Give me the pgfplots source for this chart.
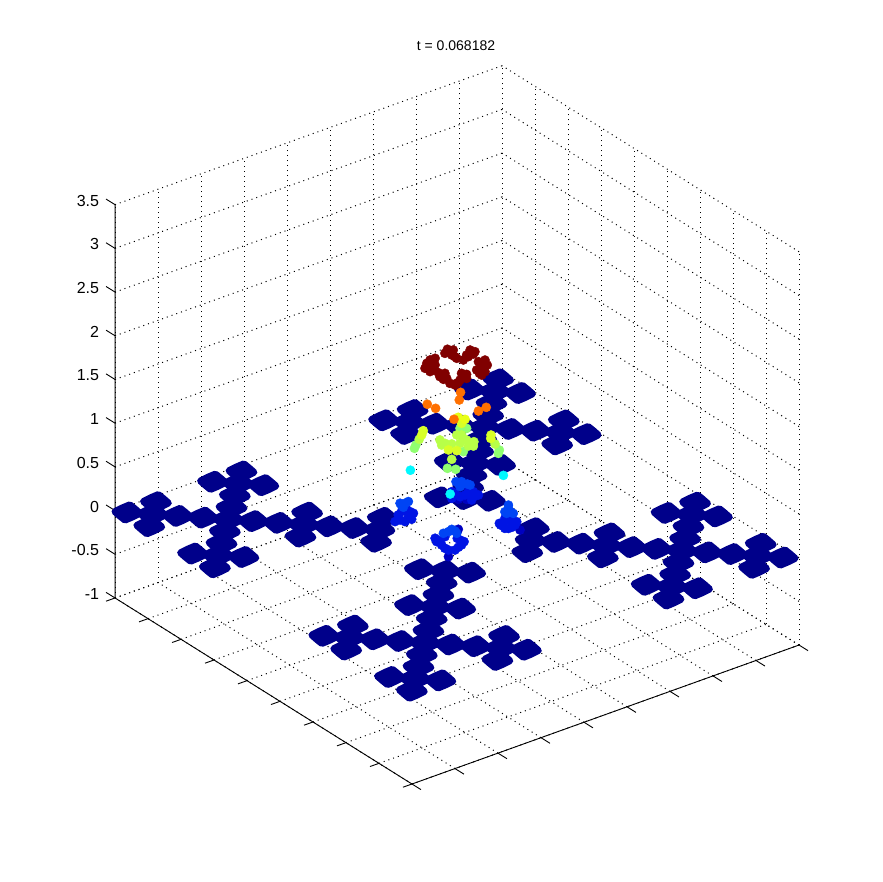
\documentclass[border=0pt]{standalone}
\usepackage{fontspec}
\setmainfont{Liberation Sans}
\usepackage{pgfplots}
\pgfplotsset{compat=1.18}
\definecolor{jnavy}{HTML}{00008A}
\definecolor{jdb}{HTML}{0000C0}
\definecolor{jmb}{HTML}{0014E4}
\definecolor{jlb}{HTML}{0044F4}
\definecolor{jcy}{HTML}{00F8FF}
\definecolor{jg}{HTML}{90FF70}
\definecolor{jy2}{HTML}{B8FF48}
\definecolor{jy1}{HTML}{D8FF28}
\definecolor{jy0}{HTML}{E8FF18}
\definecolor{jor}{HTML}{FF7000}
\definecolor{jred}{HTML}{800000}
\pgfdeclareplotmark{lobe}{%
  \pgfpathmoveto{\pgfqpoint{12.4pt}{-0.8pt}}%
  \pgfpathlineto{\pgfqpoint{7.4pt}{3.6pt}}%
  \pgfpathlineto{\pgfqpoint{2.4pt}{7.6pt}}%
  \pgfpathlineto{\pgfqpoint{-5.0pt}{4.5pt}}%
  \pgfpathlineto{\pgfqpoint{-12.4pt}{0.8pt}}%
  \pgfpathlineto{\pgfqpoint{-7.4pt}{-3.6pt}}%
  \pgfpathlineto{\pgfqpoint{-2.4pt}{-7.6pt}}%
  \pgfpathlineto{\pgfqpoint{5.0pt}{-4.5pt}}%
  \pgfpathclose
  \pgfsetlinewidth{7pt}%
  \pgfsetroundjoin
  \pgfusepathqfillstroke}
\pgfplotsset{dots/.style={only marks,mark=*,mark size=4.6pt,mark options={draw=#1,fill=#1,line width=0.4pt}}}
\begin{document}
\begin{tikzpicture}[x=1pt,y=1pt]
\useasboundingbox (0,0) rectangle (883,882);
\begin{axis}[
  at={(455pt,347pt)},anchor=origin,
  x={(14.26pt,5.12pt)},y={(-10.94pt,6.854pt)},z={(0pt,87.4pt)},
  disabledatascaling,clip=false,
  xmin=-13.417,xmax=13.724,ymin=-13.556,ymax=13.585,zmin=-1,zmax=3.5,
  xtick={-13.417,-10.401,-7.386,-4.370,-1.354,1.661,4.677,7.692,10.708,13.724},
  ytick={-13.556,-10.540,-7.524,-4.509,-1.493,1.522,4.538,7.553,10.569,13.585},
  ztick={-1,-0.5,0,0.5,1,1.5,2,2.5,3,3.5},
  zticklabels={-1,-0.5,0,0.5,1,1.5,2,2.5,3,3.5},
  xticklabels={},yticklabels={},
  grid=major,grid style={black,line width=1pt,dash pattern=on 1pt off 4pt},
  axis line style={draw=none},
  major tick length=0pt,tick style={draw=none},
  z tick label style={font=\fontsize{16}{17}\selectfont,anchor=east,xshift=-12.5pt,yshift=4pt},
]
\addplot3[only marks,mark=lobe,color=jnavy] coordinates {
(-13,13,0)(-12,12,0)(-11,11,0)(-10,10,0)(-9,9,0)(-8,8,0)(-7,7,0)(-6,6,0)(-5,5,0)(-4,4,0)(-3,3,0)
(-11,13,0)(-13,11,0)(-5,7,0)(-7,5,0)(-2,4,0)(-4,2,0)
(-8,10,0)(-7,11,0)(-6,12,0)(-5,13,0)(-10,8,0)(-11,7,0)(-12,6,0)(-13,5,0)
(-7,13,0)(-13,7,0)(-5,11,0)(-11,5,0)
(13,-13,0)(12,-12,0)(11,-11,0)(10,-10,0)(9,-9,0)(8,-8,0)(7,-7,0)(6,-6,0)(5,-5,0)(4,-4,0)(3,-3,0)
(13,-11,0)(11,-13,0)(7,-5,0)(5,-7,0)(4,-2,0)(2,-4,0)
(10,-8,0)(11,-7,0)(12,-6,0)(13,-5,0)(8,-10,0)(7,-11,0)(6,-12,0)(5,-13,0)
(13,-7,0)(7,-13,0)(11,-5,0)(5,-11,0)
(-13,-13,0)(-12,-12,0)(-11,-11,0)(-10,-10,0)(-9,-9,0)(-8,-8,0)(-7,-7,0)(-6,-6,0)(-5,-5,0)(-4,-4,0)(-3,-3,0)
(-11,-13,0)(-13,-11,0)(-5,-7,0)(-7,-5,0)(-2,-4,0)(-4,-2,0)
(-8,-10,0)(-7,-11,0)(-6,-12,0)(-5,-13,0)(-10,-8,0)(-11,-7,0)(-12,-6,0)(-13,-5,0)
(-7,-13,0)(-13,-7,0)(-5,-11,0)(-11,-5,0)
(13,13,0)(12,12,0)(11,11,0)(10,10,0)(9,9,0)(8,8,0)(7,7,0)(6,6,0)(5,5,0)(4,4,0)(3,3,0)
(13,11,0)(11,13,0)(7,5,0)(5,7,0)(4,2,0)(2,4,0)
(10,8,0)(11,7,0)(12,6,0)(13,5,0)(8,10,0)(7,11,0)(6,12,0)(5,13,0)
(13,7,0)(7,13,0)(11,5,0)(5,11,0)
};
\addplot3[dots=jdb] coordinates {
(0.13,-0.13,0.411)(0.46,-0.46,0.417)(-0.26,0.26,-0.253)(0.13,-0.13,0.068)(2.58,-2.58,0.108)
};
\addplot3[dots=jmb] coordinates {
(0,0,0.477)(0.20,-0.20,0.442)(0.60,-0.60,0.469)(0.79,-0.79,0.461)(0.53,-0.53,0.506)
(-0.13,0.13,0.493)(0.40,-0.40,0.465)(0.93,-0.93,0.476)(0.73,-0.73,0.510)(0.66,-0.66,0.413)(-0.13,0.13,0.417)
(-1.79,1.79,0.232)(-1.72,1.72,0.146)(-1.98,1.98,0.114)(-2.25,2.25,0.185)(-2.38,2.38,0.106)(-2.12,2.12,0.226)
(-1.85,1.85,0.174)(-2.18,2.18,0.129)(-1.92,1.92,0.256)(-1.65,1.65,0.216)
(-0.60,0.60,-0.077)(-0.40,0.40,-0.160)(0.20,-0.20,-0.053)(0.26,-0.26,-0.109)(0,0,-0.172)(-0.73,0.73,-0.090)(-0.40,0.40,-0.027)
(-0.79,0.79,-0.053)(-0.53,0.53,-0.125)(-0.26,0.26,-0.177)(0.09,-0.09,-0.036)(0.36,-0.36,-0.069)(0.13,-0.13,-0.138)
(1.92,-1.92,0.171)(2.12,-2.12,0.117)(2.38,-2.38,0.161)(2.25,-2.25,0.235)(1.98,-1.98,0.229)(1.81,-1.81,0.150)
(1.76,-1.76,0.168)(1.98,-1.98,0.115)(2.25,-2.25,0.132)(2.45,-2.45,0.200)(2.18,-2.18,0.214)
};
\addplot3[dots=jlb] coordinates {
(0.13,-0.13,0.594)(0.33,-0.33,0.590)(0.49,-0.49,0.593)(0.04,-0.04,0.611)(0.26,-0.26,0.615)(0.60,-0.60,0.584)(0.20,-0.20,0.557)
(-1.98,1.98,0.324)(-2.12,2.12,0.294)(-1.85,1.85,0.346)(-2.05,2.05,0.277)(-2.18,2.18,0.320)
(-0.26,0.26,0.033)(0,0,0.046)(-0.46,0.46,0.010)(-0.13,0.13,0.062)(0.07,-0.07,0.021)
(2.12,-2.12,0.346)(2.05,-2.05,0.288)(2.21,-2.21,0.310)(2.12,-2.12,0.384)(1.98,-1.98,0.305)(2.31,-2.31,0.293)
};
\addplot3[dots=jcy] coordinates {
(-1.77,1.77,0.706)(1.92,-1.92,0.720)(-0.19,0.19,0.465)
};
\addplot3[dots=jg] coordinates {
(-1.55,1.55,1.000)(-1.61,1.61,0.960)(1.76,-1.76,1.007)(1.72,-1.72,0.968)
(0.46,-0.46,1.229)(0.20,-0.20,1.224)(0.33,-0.33,0.960)(-0.30,0.30,0.757)(0.03,-0.03,0.752)
};
\addplot3[dots=jy2] coordinates {
(-1.42,1.42,1.067)(1.59,-1.59,1.072)(0.07,-0.07,1.146)(0.26,-0.26,1.149)(-0.60,0.60,1.076)(-0.53,0.53,1.019)
(0.75,-0.75,1.082)(0.73,-0.73,1.032)(0.53,-0.53,1.029)(0.20,-0.20,1.053)(-0.13,0.13,1.039)(-0.40,0.40,1.041)(0.46,-0.46,1.096)(-0.13,0.13,0.863)
};
\addplot3[dots=jy1] coordinates {
(-1.26,1.26,1.169)(-1.32,1.32,1.119)(1.43,-1.43,1.172)(1.42,-1.42,1.133)(0.26,-0.26,1.283)(-0.26,0.26,0.968)(0.07,-0.07,0.966)
};
\addplot3[dots=jy0] coordinates {
(0.40,-0.40,1.331)(0.13,-0.13,1.349)
};
\addplot3[dots=jor] coordinates {
(-1.10,1.10,1.474)(-0.77,0.77,1.434)(0.93,-0.93,1.437)(1.24,-1.24,1.485)(-0.04,0.04,1.323)(0.17,-0.17,1.548)(0.22,-0.22,1.637)
};
\addplot3[dots=jred] coordinates {
(-0.99,0.99,1.983)(-0.79,0.79,2.006)(-1.06,1.06,1.905)(-0.79,0.79,1.930)(-0.99,0.99,1.850)(-1.12,1.12,1.942)
(-0.93,0.93,1.946)(-1.19,1.19,1.884)(-0.83,0.83,1.872)
(-0.20,0.20,2.094)(0,0,2.040)(-0.40,0.40,2.071)(-0.13,0.13,2.057)(0.07,-0.07,2.023)
(-0.30,0.30,2.119)(-0.07,0.07,2.115)
(0.66,-0.66,2.092)(0.46,-0.46,2.068)(0.33,-0.33,2.009)(0.53,-0.53,2.051)(0.73,-0.73,2.085)
(0.79,-0.79,2.113)(0.60,-0.60,2.128)
(1.12,-1.12,1.986)(0.93,-0.93,2.001)(1.06,-1.06,1.928)(0.86,-0.86,1.905)(1.19,-1.19,1.892)(1.06,-1.06,1.851)
(1.28,-1.28,1.970)(1.19,-1.19,2.025)(0.97,-0.97,1.869)
(0.33,-0.33,1.818)(0.20,-0.20,1.777)(0.07,-0.07,1.737)(0.46,-0.46,1.801)
(0.26,-0.26,1.855)(0.46,-0.46,1.847)(0.13,-0.13,1.746)
(-0.53,0.53,1.820)(-0.33,0.33,1.786)(-0.20,0.20,1.731)(-0.60,0.60,1.800)(-0.40,0.40,1.842)
(-0.66,0.66,1.844)(-0.46,0.46,1.772)(0,0,1.716)
};
% the three solid axis lines and their ticks
\draw[black,line width=0.9pt] (axis cs:13.724,-13.556,-1) -- (axis cs:-13.417,-13.556,-1) -- (axis cs:-13.417,13.585,-1) -- (axis cs:-13.417,13.585,3.5);
\pgfplotsinvokeforeach{-13.417,-10.401,-7.386,-4.370,-1.354,1.661,4.677,7.692,10.708,13.724}{
  \draw[black,line width=0.9pt] (axis cs:#1,-13.556,-1) -- ++(9pt,-5.6pt);}
\pgfplotsinvokeforeach{-13.556,-10.540,-7.524,-4.509,-1.493,1.522,4.538,7.553,10.569,13.585}{
  \draw[black,line width=0.9pt] (axis cs:-13.417,#1,-1) -- ++(-9pt,-3.2pt);}
\pgfplotsinvokeforeach{-1,-0.5,0,0.5,1,1.5,2,2.5,3,3.5}{
  \draw[black,line width=0.9pt] (axis cs:-13.417,13.585,#1) -- ++(-9pt,5.6pt);}
\end{axis}
\node[font=\fontsize{14}{15}\selectfont] at (456pt,836pt) {t = 0.068182};
\end{tikzpicture}
\end{document}
